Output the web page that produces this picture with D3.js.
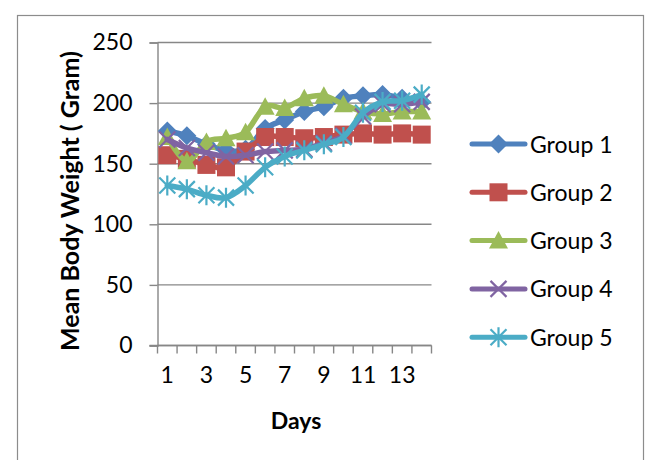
<!DOCTYPE html>
<html>
<head>
<meta charset="utf-8">
<script src="https://cdn.jsdelivr.net/npm/d3@7"></script>
<style>
  body { margin: 0; background: #fff; }
  text { font-family: Lato, "Open Sans", sans-serif; fill: #000; }
</style>
</head>
<body>
<svg id="chart" width="648" height="460"></svg>
<script>
var days = [1, 2, 3, 4, 5, 6, 7, 8, 9, 10, 11, 12, 13, 14];
var dayLabels = [1, 3, 5, 7, 9, 11, 13];
var yTicks = [0, 50, 100, 150, 200, 250];
var seriesNames = ["Group 1", "Group 2", "Group 3", "Group 4", "Group 5"];
var group1 = [177, 173, 166, 161, 162, 179, 186, 193, 197, 204, 206, 207, 204, 201];
var group2 = [157, 154, 149, 147, 160, 172, 172, 171, 172, 174, 175, 174, 175, 174];
var group3 = [172, 152, 168, 171, 176, 197, 196, 204, 206, 199, 193, 191, 193, 193];
var group4 = [170, 163, 159, 156, 157, 160, 161, 162, 167, 173, 189, 199, 199, 201];
var group5 = [132, 129, 124, 122, 132, 147, 156, 161, 166, 172, 192, 201, 202, 207];
var allSeries = [group1, group2, group3, group4, group5];
var colors = ["#4F81BD", "#C0504D", "#9BBB59", "#8064A2", "#4BACC6"];
var markers = ["diamond", "square", "triangle", "x", "star"];

(function() {
  var svg = d3.select("#chart");
  var pLeft = 157.5, pRight = 431.5, pTop = 42.5, pBottom = 345.5;

  // рамка вокруг всей диаграммы
  svg.append("rect")
    .attr("x", 17.5).attr("y", 15.5)
    .attr("width", 626).attr("height", 470)
    .attr("fill", "none").attr("stroke", "#8c8c8c").attr("stroke-width", 1.2);

  var x = d3.scaleBand().domain(days).range([pLeft, pRight]).padding(0);
  var y = d3.scaleLinear().domain([0, 250]).range([pBottom, pTop]);

  // сетка
  svg.append("g").selectAll("line").data(yTicks).enter().append("line")
    .attr("x1", pLeft).attr("x2", pRight)
    .attr("y1", function(d) { return y(d); })
    .attr("y2", function(d) { return y(d); })
    .attr("stroke", "#878787").attr("stroke-width", 1.4);

  var yAxis = svg.append("g")
    .attr("transform", "translate(" + pLeft + ",0)")
    .call(d3.axisLeft(y).tickValues(yTicks).tickSize(8).tickPadding(17));
  yAxis.select(".domain").attr("stroke", "#878787").attr("stroke-width", 1.4);
  yAxis.selectAll(".tick line").attr("stroke", "#878787").attr("stroke-width", 1.4);
  yAxis.selectAll(".tick text")
    .style("font-family", "Lato").style("font-size", "23px").attr("fill", "#000");

  // ось X: засечки на границах категорий
  var xg = svg.append("g");
  xg.append("line").attr("x1", pLeft - 8).attr("x2", pRight)
    .attr("y1", pBottom).attr("y2", pBottom)
    .attr("stroke", "#878787").attr("stroke-width", 1.4);
  var bounds = days.map(function(d) { return x(d); }).concat([x(14) + x.bandwidth()]);
  xg.selectAll("line.tk").data(bounds).enter().append("line")
    .attr("class", "tk")
    .attr("x1", function(d) { return d; }).attr("x2", function(d) { return d; })
    .attr("y1", pBottom).attr("y2", pBottom + 8)
    .attr("stroke", "#878787").attr("stroke-width", 1.4);
  xg.selectAll("text").data(dayLabels).enter().append("text")
    .attr("x", function(d) { return x(d) + x.bandwidth() / 2; })
    .attr("y", 383)
    .attr("text-anchor", "middle")
    .style("font-size", "23px")
    .text(function(d) { return d; });

  svg.append("text")
    .attr("x", 296).attr("y", 429)
    .attr("text-anchor", "middle")
    .style("font-size", "23px").style("font-weight", "bold")
    .text("Days");

  svg.append("text")
    .attr("transform", "translate(79,201) rotate(-90)")
    .attr("text-anchor", "middle")
    .style("font-size", "25px").style("font-weight", "bold")
    .text("Mean Body Weight ( Gram)");

  function cx(i) { return x(days[i]) + x.bandwidth() / 2; }

  function drawMarker(g, type, color, px, py) {
    if (type === "diamond") {
      g.append("path").attr("d", "M" + px + "," + (py - 9.5) + "L" + (px + 9.5) + "," + py +
        "L" + px + "," + (py + 9.5) + "L" + (px - 9.5) + "," + py + "Z").attr("fill", color);
    } else if (type === "square") {
      g.append("rect").attr("x", px - 9).attr("y", py - 9).attr("width", 18).attr("height", 18)
        .attr("fill", color);
    } else if (type === "triangle") {
      g.append("path").attr("d", "M" + px + "," + (py - 9.5) + "L" + (px + 9.5) + "," + (py + 8) +
        "L" + (px - 9.5) + "," + (py + 8) + "Z").attr("fill", color);
    } else if (type === "x") {
      g.append("path").attr("d", "M" + (px - 8) + "," + (py - 8) + "L" + (px + 8) + "," + (py + 8) +
        "M" + (px + 8) + "," + (py - 8) + "L" + (px - 8) + "," + (py + 8))
        .attr("stroke", color).attr("stroke-width", 2.2).attr("fill", "none");
    } else {
      g.append("path").attr("d", "M" + (px - 8) + "," + (py - 8) + "L" + (px + 8) + "," + (py + 8) +
        "M" + (px + 8) + "," + (py - 8) + "L" + (px - 8) + "," + (py + 8) +
        "M" + px + "," + (py - 10) + "L" + px + "," + (py + 10))
        .attr("stroke", color).attr("stroke-width", 2.2).attr("fill", "none");
    }
  }

  var line = d3.line()
    .x(function(d, i) { return cx(i); })
    .y(function(d) { return y(d); })
    .curve(d3.curveCatmullRom.alpha(0));

  allSeries.forEach(function(vals, s) {
    var g = svg.append("g");
    g.append("path").datum(vals).attr("d", line)
      .attr("fill", "none").attr("stroke", colors[s]).attr("stroke-width", 5.5)
      .attr("stroke-linejoin", "round").attr("stroke-linecap", "round");
    vals.forEach(function(v, i) { drawMarker(g, markers[s], colors[s], cx(i), y(v)); });
  });

  // легенда
  var lg = svg.append("g");
  seriesNames.forEach(function(name, s) {
    var ly = 144 + s * 48.3;
    lg.append("line").attr("x1", 472).attr("x2", 525).attr("y1", ly).attr("y2", ly)
      .attr("stroke", colors[s]).attr("stroke-width", 5).attr("stroke-linecap", "round");
    drawMarker(lg, markers[s], colors[s], 498.5, ly);
    lg.append("text").attr("x", 530).attr("y", ly + 8.5)
      .style("font-size", "23px").text(name);
  });
})();
</script>
</body>
</html>
